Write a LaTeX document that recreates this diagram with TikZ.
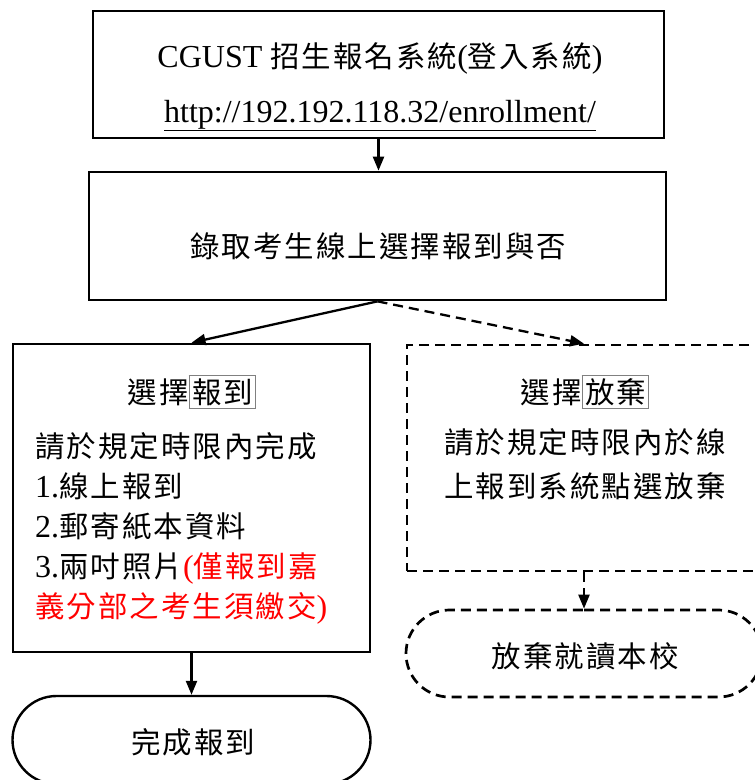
\documentclass[tikz,border=0pt]{standalone}
\usepackage{fontspec}
\setmainfont{Liberation Serif}
\newfontfamily\cjk{Noto Sans CJK TC}[Scale=0.92,LetterSpace=7]
\usetikzlibrary{arrows.meta,shapes.misc}
\newcommand\zh[1]{{\cjk #1}}
\newcommand\zbox[1]{{\setlength\fboxsep{2.5pt}\setlength\fboxrule{1pt}\fcolorbox{gray}{white}{\zh{#1}}}}
\begin{document}
\begin{tikzpicture}[x=1pt,y=-1pt,
  frame/.style={draw, line width=2.7pt, inner sep=0pt},
  dframe/.style={draw, line width=2.7pt, inner sep=0pt, dash pattern=on 10pt off 6pt},
  term/.style={draw, line width=2.4pt, inner sep=0pt},
  txt/.style={font=\fontsize{32}{40}\selectfont, inner sep=0pt},
  arr/.style={line width=2.3pt, -{Triangle[length=14pt,width=11pt]}},
  darr/.style={arr, dash pattern=on 10pt off 6pt}]
\useasboundingbox (0,0) rectangle (755,780);
\fill[white] (0,0) rectangle (755,780);
\clip (0,0) rectangle (755,780);

% top box
\node[frame, minimum width=571pt, minimum height=127pt] (top) at (378.5,74.5) {};
\node[txt, anchor=base] (t1) at (380,67) {CGUST \zh{招生報名系統}(\zh{登入系統})};
\node[txt, anchor=base] (t2) at (380,122) {\underline{http://192.192.118.32/enrollment/}};

% middle box
\node[frame, minimum width=577pt, minimum height=128pt] (mid) at (377.5,236) {};
\node[txt, anchor=base] (m1) at (378,257) {\zh{錄取考生線上選擇報到與否}};

% left box
\node[frame, minimum width=357pt, minimum height=308pt] (left) at (191.5,498) {};
\node[txt, anchor=base] (l0) at (192,403) {\zh{選擇}\zbox{報到}};
\node[txt, anchor=base west] (l1) at (35,457) {\zh{請於規定時限內完成}};
\node[txt, anchor=base west] (l2) at (35,497) {1.\zh{線上報到}};
\node[txt, anchor=base west] (l3) at (35,537) {2.\zh{郵寄紙本資料}};
\node[txt, anchor=base west] (l4) at (35,577) {3.\zh{兩吋照片}{\color{red}(\zh{僅報到嘉}}};
\node[txt, anchor=base west, text=red] (l5) at (35,617) {\zh{義分部之考生須繳交})};

% right box
\node[dframe, minimum width=354pt, minimum height=226pt] (right) at (584,458) {};
\node[txt, anchor=base] (r0) at (585,403) {\zh{選擇}\zbox{放棄}};
\node[txt, anchor=base] (r1) at (585,453) {\zh{請於規定時限內於線}};
\node[txt, anchor=base] (r2) at (585,497) {\zh{上報到系統點選放棄}};

% terminals
\node[dframe, rounded rectangle, minimum width=356pt, minimum height=87pt] (quit) at (584,653.5) {};
\node[txt, anchor=base] (q) at (585,667) {\zh{放棄就讀本校}};
\node[term, rounded rectangle, minimum width=358pt, minimum height=88pt] (done) at (191.5,740) {};
\node[txt, anchor=base] (d) at (193,753) {\zh{完成報到}};

% connectors
\draw[arr] (top.south) -- (top.south |- mid.north);
\draw[arr] (mid.south) -- (left.north);
\draw[darr] (mid.south) -- (right.north);
\draw[darr] (right.south) -- (quit.north);
\draw[arr] (left.south) -- (done.north);
\end{tikzpicture}
\end{document}
